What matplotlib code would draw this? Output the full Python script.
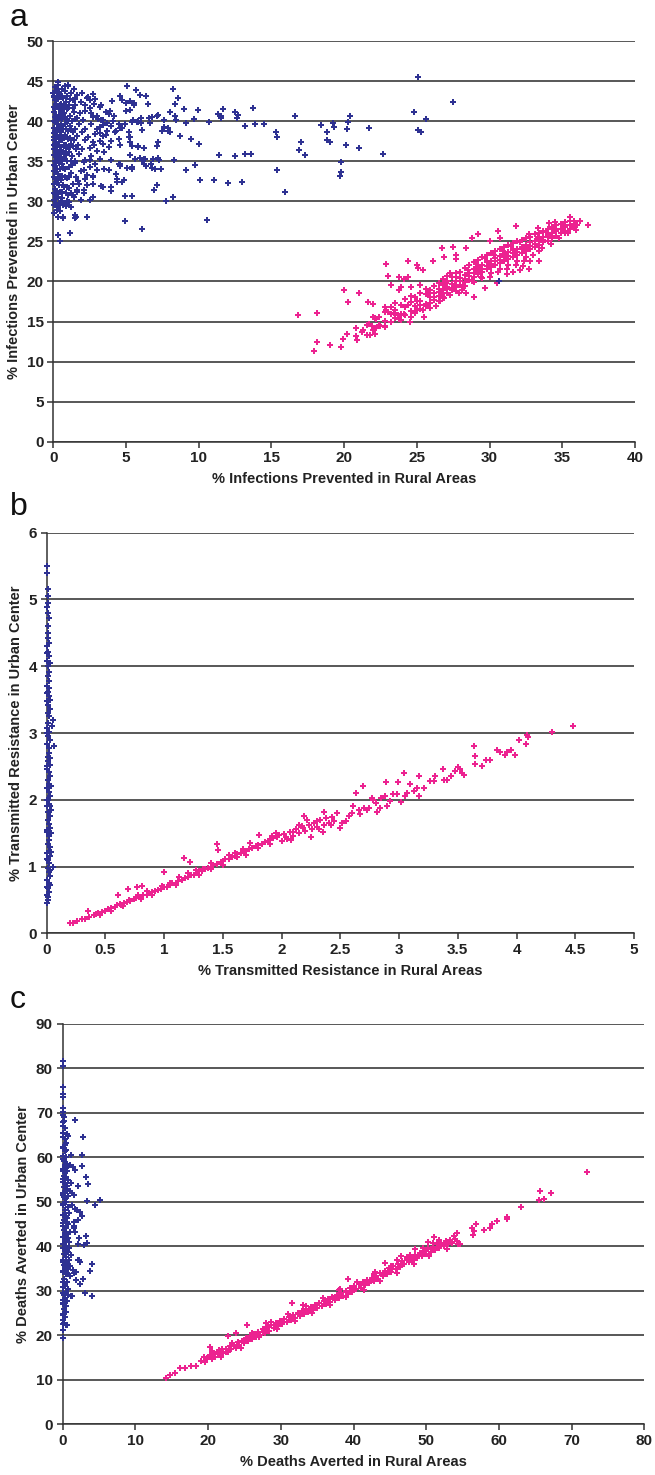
import numpy as np
import matplotlib
matplotlib.use("Agg")
import matplotlib.pyplot as plt
from matplotlib.ticker import FormatStrFormatter

plt.rcParams["font.family"] = ["Liberation Sans", "DejaVu Sans"]

BLUE = "#2E3192"
PINK = "#EC2290"

# ---- panel a: % infections prevented (urban = blue, rural = pink) ----
A_URBAN = [
    (5.08, 44.4), (5.68, 43.9), (5.95, 43.3), (6.4, 43.1), (4.6, 43.1), (4.7, 42.6), (5.0, 42.3),
    (5.3, 42.5), (5.55, 42.3), (6.5, 42.2), (4.07, 42.5), (5.55, 42.0), (5.03, 41.3), (5.3, 41.4),
    (8.24, 44.0), (8.6, 42.9), (8.35, 42.1), (8.0, 41.2), (8.97, 41.5), (9.93, 41.4), (8.35, 40.6),
    (8.46, 40.1), (9.66, 40.3), (9.15, 39.8), (10.7, 39.9), (11.3, 40.9), (11.5, 40.6), (11.7, 41.5),
    (11.5, 40.4), (12.5, 41.2), (12.7, 40.8), (12.6, 40.4), (13.7, 41.6), (13.2, 39.4), (13.9, 39.7),
    (14.5, 39.7), (16.6, 40.6), (18.4, 39.5), (18.8, 38.7), (18.8, 37.6), (19.0, 37.4), (17.0, 37.4),
    (16.9, 36.4), (17.3, 35.8), (15.3, 38.6), (15.4, 38.0), (15.4, 33.9), (15.9, 31.2), (11.4, 35.8),
    (12.5, 35.6), (13.2, 35.9), (13.6, 35.9), (11.05, 32.7), (10.07, 32.7), (12.0, 32.3), (12.95, 32.4),
    (10.6, 27.7), (9.73, 34.5), (10.0, 37.1), (9.5, 37.8), (8.7, 38.1), (9.15, 33.9), (8.3, 35.1),
    (7.4, 34.0), (7.2, 37.4), (7.16, 36.9), (7.2, 35.4), (7.3, 35.1), (6.87, 35.3), (7.0, 34.0),
    (7.1, 32.0), (6.9, 31.4), (7.76, 30.1), (8.24, 30.5), (6.22, 36.6), (6.22, 35.3), (6.22, 34.7),
    (6.34, 34.4), (6.7, 34.6), (6.8, 34.2), (6.8, 40.5), (6.6, 40.4), (6.06, 40.4), (6.1, 38.9),
    (5.77, 39.9), (5.8, 36.9), (5.95, 35.4), (5.6, 35.3), (5.24, 35.8), (5.4, 34.3), (5.08, 34.1),
    (5.4, 30.6), (4.9, 30.7), (4.94, 27.5), (6.1, 26.6), (4.87, 32.7), (4.7, 32.4), (4.5, 34.7),
    (4.57, 34.4), (4.3, 33.4), (3.94, 31.3), (5.2, 38.0), (5.3, 37.4), (5.5, 40.1), (5.84, 39.9),
    (7.6, 39.3), (7.87, 38.8), (7.5, 38.8), (7.9, 39.1), (8.0, 38.6), (7.64, 40.1), (7.2, 40.8),
    (7.1, 40.7), (25.1, 45.5), (27.5, 42.4), (24.8, 41.1), (25.6, 40.3), (25.1, 38.9), (25.3, 38.6),
    (20.4, 40.7), (20.3, 39.9), (19.2, 39.8), (19.3, 39.3), (20.2, 39.0), (21.7, 39.1), (20.1, 37.0),
    (21.0, 36.7), (22.7, 35.9), (19.8, 34.9), (19.8, 33.7), (19.7, 33.1), (30.65, 20.0),
    (2.7, 43.4), (2.0, 43.5), (2.3, 42.9), (1.4, 44.0), (1.5, 42.8), (2.5, 42.7), (2.8, 42.2),
    (3.2, 41.8), (3.3, 42.0), (2.5, 41.6), (2.2, 41.3), (3.6, 41.1), (3.8, 40.9), (3.9, 41.3),
    (4.2, 40.7), (2.75, 40.5), (3.1, 40.3), (3.4, 40.1), (4.1, 40.0), (4.5, 39.7), (4.9, 39.7),
    (5.4, 39.9), (5.8, 40.0), (6.0, 39.8), (6.65, 39.8), (4.7, 39.1), (5.2, 38.6), (4.25, 38.6),
    (3.7, 38.8), (3.2, 39.3), (2.9, 38.4), (3.4, 38.2), (4.0, 37.5), (4.5, 37.8), (5.3, 38.0),
    (4.6, 37.0), (5.4, 36.9), (5.8, 36.8), (3.2, 37.5), (2.75, 37.4), (3.4, 37.1), (2.5, 36.7),
    (3.0, 36.3), (3.5, 36.1), (4.0, 35.2), (4.6, 34.6), (5.1, 34.2), (5.4, 34.0), (6.1, 35.2),
    (6.3, 35.3), (3.2, 35.3), (2.6, 35.7), (2.2, 35.1), (2.5, 34.3), (3.0, 33.9), (3.85, 33.9),
    (2.1, 33.9), (2.75, 33.2), (2.2, 32.8), (1.8, 32.2), (2.3, 32.0), (2.75, 32.2), (3.3, 31.9),
    (3.4, 31.8), (4.0, 31.8), (4.35, 32.8), (4.35, 32.4), (1.6, 31.4), (2.1, 31.4), (2.5, 30.2),
    (1.0, 30.8), (0.8, 29.7), (0.9, 29.4), (0.35, 29.3), (0.23, 28.9), (0.7, 27.9), (1.5, 28.3),
    (1.5, 27.9), (2.3, 28.1), (0.34, 25.8), (0.46, 25.0), (1.14, 26.0), (0.69, 28.0), (0.34, 28.0),
    (1.1, 29.5), (1.2, 29.3), (1.55, 28.0), (0.34, 44.9), (0.11, 44.3), (0.8, 44.4), (1.03, 44.4),
    (0.0, 43.5),
    (0.05, 30.2), (0.1, 31.5), (0.08, 33.0), (0.12, 34.4), (0.06, 35.8), (0.1, 37.1), (0.07, 38.5),
    (0.11, 39.9), (0.05, 41.2), (0.09, 42.6), (0.13, 43.8), (0.2, 29.8), (0.25, 31.0), (0.22, 32.3),
    (0.18, 33.7), (0.26, 35.1), (0.21, 36.4), (0.17, 37.8), (0.24, 39.2), (0.19, 40.6), (0.27, 41.9),
    (0.23, 43.1), (0.32, 30.5), (0.36, 32.0), (0.3, 33.4), (0.38, 34.8), (0.33, 36.0), (0.37, 37.4),
    (0.31, 38.9), (0.35, 40.2), (0.4, 41.5), (0.34, 42.8), (0.29, 44.5), (0.45, 31.2), (0.5, 32.7),
    (0.47, 34.0), (0.52, 35.5), (0.44, 36.8), (0.49, 38.1), (0.55, 39.5), (0.46, 40.8), (0.53, 42.2),
    (0.48, 43.4), (0.6, 30.4), (0.63, 33.2), (0.58, 34.6), (0.66, 36.1), (0.61, 37.6), (0.68, 39.0),
    (0.59, 40.3), (0.64, 41.7), (0.7, 42.9), (0.75, 31.8), (0.8, 34.0), (0.73, 35.3), (0.84, 36.7),
    (0.77, 38.3), (0.82, 39.6), (0.74, 41.0), (0.86, 42.4), (0.92, 32.9), (0.95, 35.0), (0.9, 37.0),
    (0.98, 38.8), (0.93, 40.1), (1.0, 41.6), (0.96, 43.2), (1.05, 31.6), (1.1, 34.3), (1.08, 36.2),
    (1.15, 37.9), (1.12, 39.4), (1.18, 40.7), (1.06, 42.0), (1.25, 33.5), (1.3, 35.7), (1.22, 37.2),
    (1.35, 38.6), (1.28, 40.0), (1.4, 41.2), (1.32, 42.6), (1.45, 30.5), (1.5, 34.8), (1.55, 36.5),
    (1.48, 39.0), (1.6, 40.4), (1.52, 42.0), (0.03, 31.0), (0.15, 32.8), (0.28, 34.0), (0.42, 35.9),
    (0.14, 36.9), (0.03, 38.0), (0.27, 38.3), (0.43, 39.4), (0.15, 41.5), (0.39, 43.6), (0.57, 44.0),
    (0.02, 43.0), (0.04, 40.0), (0.03, 34.5), (0.16, 30.6), (0.41, 29.6), (0.62, 35.0), (0.71, 37.0),
    (0.55, 41.0), (0.79, 40.5), (0.88, 38.0), (0.67, 32.0), (0.85, 31.0), (1.02, 36.8), (1.2, 35.0),
    (1.38, 36.9), (1.65, 38.2), (1.7, 37.0), (1.75, 39.6), (1.8, 35.9), (1.85, 41.0), (1.9, 33.8),
    (1.95, 38.7), (2.0, 36.5), (2.05, 40.2), (2.1, 34.9), (1.7, 32.5), (1.6, 31.2), (1.9, 30.2),
    (1.35, 30.8), (1.1, 29.9), (0.95, 30.0), (0.7, 29.5), (2.2, 39.0), (2.4, 38.0), (2.6, 39.6),
    (2.8, 37.0), (2.5, 35.2), (2.3, 33.3), (2.7, 33.0), (2.9, 34.6), (3.0, 39.0), (3.2, 38.5),
    (2.2, 37.6), (3.4, 39.5), (3.6, 38.3), (2.1, 31.0), (2.7, 30.5), (3.5, 34.0), (3.8, 36.8),
    (1.2, 43.5), (1.0, 44.5), (0.8, 43.8), (1.6, 43.3), (1.9, 42.4), (2.2, 42.0), (2.4, 43.0),
    (2.6, 41.0), (3.0, 40.7), (3.3, 40.2), (3.7, 39.8), (4.0, 39.4), (4.3, 38.8), (4.6, 39.2),
    (2.9, 42.8),
    (0.02, 29.5), (0.06, 32.2), (0.04, 33.8), (0.09, 35.0), (0.02, 36.5), (0.08, 37.6), (0.05, 39.2),
    (0.03, 41.8), (0.07, 43.2), (0.14, 30.9), (0.16, 35.5), (0.13, 38.8), (0.18, 42.2), (0.22, 44.0),
    (0.25, 36.9), (0.29, 32.8), (0.33, 39.6), (0.37, 35.2), (0.4, 33.0), (0.43, 37.9), (0.46, 42.0),
    (0.5, 30.0), (0.52, 36.3), (0.56, 38.6), (0.6, 43.0), (0.63, 31.2), (0.66, 40.9), (0.7, 34.2),
    (0.73, 38.0), (0.77, 36.0), (0.8, 42.0), (0.83, 33.0), (0.87, 39.0), (0.9, 35.8), (0.94, 41.5),
    (0.97, 31.8), (1.0, 37.8), (1.04, 40.0), (1.08, 33.0), (1.12, 42.8), (1.16, 36.8), (1.2, 31.0),
    (1.24, 39.0), (1.28, 34.5), (1.33, 41.7), (1.37, 32.2), (1.42, 37.6), (1.46, 35.0), (1.5, 40.3),
    (1.55, 33.0), (0.12, 40.5), (0.26, 40.5), (0.05, 37.0), (0.2, 35.0), (0.35, 31.0), (0.45, 28.8),
    (0.08, 28.5),
]

A_RURAL = [
    (16.8, 15.8), (18.1, 16.1), (17.9, 11.3), (18.1, 12.5), (19.0, 12.1), (19.8, 11.8), (19.95, 12.8),
    (20.2, 13.5), (20.3, 17.4), (20.0, 18.9), (21.0, 18.6), (20.85, 14.2), (20.85, 13.2), (20.9, 12.7),
    (21.2, 13.7), (21.6, 13.3), (21.8, 13.3), (22.1, 13.4), (21.65, 17.4), (22.0, 17.2), (22.0, 15.6),
    (22.1, 15.4), (21.7, 14.7), (21.9, 14.4), (22.2, 14.2), (22.5, 14.4), (22.8, 14.5), (22.9, 22.2),
    (23.0, 20.7), (23.25, 19.5), (23.75, 20.5), (24.1, 20.3), (24.4, 22.5), (24.4, 20.6), (23.8, 18.9),
    (23.9, 19.3), (24.6, 19.3), (25.0, 22.0), (25.1, 21.7), (25.4, 21.4), (25.2, 19.6), (26.1, 22.6),
    (26.7, 24.2), (27.5, 24.3), (26.9, 23.1), (27.7, 23.3), (27.7, 22.8), (28.4, 24.2), (28.8, 25.4),
    (29.2, 25.9), (30.55, 26.3), (31.85, 26.9), (30.7, 25.4), (30.0, 25.0), (33.3, 26.7), (34.1, 27.3),
    (34.5, 27.4), (35.5, 28.1), (35.8, 27.6), (36.2, 27.5), (36.75, 27.1), (35.9, 27.1), (35.95, 26.4),
    (35.2, 26.0), (32.7, 21.5), (33.4, 22.6), (32.8, 22.5), (32.3, 21.9), (32.1, 21.4), (31.6, 21.2),
    (31.2, 20.9), (30.5, 19.8), (29.7, 19.2), (28.9, 18.1), (28.4, 18.6), (28.2, 19.4), (27.9, 18.5),
    (27.3, 18.3), (26.9, 17.9), (26.6, 17.5), (25.9, 17.3), (25.5, 15.6), (25.0, 16.5), (24.5, 15.0),
    (24.1, 15.9), (23.75, 15.3), (23.4, 16.1), (22.9, 16.5), (22.8, 16.8), (21.3, 14.0), (21.6, 14.6),
    (22.0, 14.0), (22.2, 15.3),
    (22.4, 14.6), (22.4, 15.6), (22.8, 15.1), (22.8, 16.2), (22.8, 14.3), (23.2, 15.9), (23.2, 14.9),
    (23.2, 16.8), (23.5, 15.4), (23.5, 16.5), (23.5, 17.3), (23.9, 16.0), (23.9, 17.1), (23.9, 15.2),
    (24.2, 16.8), (24.2, 15.8), (24.2, 17.8), (24.6, 16.3), (24.6, 17.4), (24.6, 18.2), (24.6, 15.6),
    (24.9, 17.0), (24.9, 16.1), (24.9, 18.0), (25.2, 17.6), (25.2, 16.6), (25.2, 18.5), (25.2, 17.1),
    (25.6, 17.2), (25.6, 18.4), (25.6, 16.9), (25.6, 19.1), (25.9, 18.0), (25.9, 17.3), (25.9, 18.9),
    (25.9, 16.7), (26.2, 18.5), (26.2, 17.7), (26.2, 19.4), (26.2, 18.1), (26.5, 18.2), (26.5, 19.1),
    (26.5, 17.5), (26.5, 19.8), (26.5, 18.7), (26.8, 18.9), (26.8, 19.6), (26.8, 18.0), (26.8, 20.3),
    (27.1, 19.3), (27.1, 18.5), (27.1, 20.1), (27.1, 19.0), (27.1, 20.7), (27.4, 19.7), (27.4, 18.9),
    (27.4, 20.6), (27.4, 19.2), (27.7, 20.0), (27.7, 19.3), (27.7, 21.1), (27.7, 20.5), (27.7, 18.8),
    (28.0, 20.4), (28.0, 19.6), (28.0, 21.2), (28.0, 20.0), (28.3, 20.8), (28.3, 19.9), (28.3, 21.7),
    (28.3, 20.3), (28.3, 19.4), (28.6, 21.1), (28.6, 20.2), (28.6, 22.0), (28.6, 20.7), (28.9, 21.5),
    (28.9, 20.6), (28.9, 22.4), (28.9, 21.0), (28.9, 19.9), (29.2, 21.8), (29.2, 20.9), (29.2, 22.7),
    (29.2, 21.3), (29.5, 22.1), (29.5, 21.2), (29.5, 23.0), (29.5, 21.6), (29.5, 20.4), (29.8, 22.4),
    (29.8, 21.5), (29.8, 23.3), (29.8, 21.9), (30.1, 22.6), (30.1, 21.8), (30.1, 23.6), (30.1, 22.2),
    (30.1, 21.0), (30.4, 22.9), (30.4, 22.1), (30.4, 23.8), (30.4, 22.5), (30.7, 23.2), (30.7, 22.3),
    (30.7, 24.1), (30.7, 22.7), (30.7, 21.6), (31.0, 23.4), (31.0, 22.6), (31.0, 24.3), (31.0, 23.0),
    (31.3, 23.7), (31.3, 22.8), (31.3, 24.5), (31.3, 23.2), (31.3, 22.0), (31.6, 23.9), (31.6, 23.1),
    (31.6, 24.8), (31.6, 23.5), (31.9, 24.1), (31.9, 23.3), (31.9, 25.0), (31.9, 23.7), (31.9, 22.5),
    (32.2, 24.3), (32.2, 23.6), (32.2, 25.2), (32.2, 24.0), (32.5, 24.6), (32.5, 23.8), (32.5, 25.4),
    (32.5, 24.2), (32.5, 23.0), (32.8, 24.9), (32.8, 24.1), (32.8, 25.6), (32.8, 24.4), (33.1, 25.1),
    (33.1, 24.3), (33.1, 25.9), (33.1, 24.7), (33.4, 25.3), (33.4, 24.6), (33.4, 26.1), (33.4, 25.0),
    (33.4, 23.8), (33.7, 25.6), (33.7, 24.9), (33.7, 26.3), (33.7, 25.2), (34.0, 25.8), (34.0, 25.1),
    (34.0, 26.5), (34.0, 25.5), (34.3, 26.1), (34.3, 25.4), (34.3, 26.8), (34.3, 25.7), (34.6, 26.3),
    (34.6, 25.7), (34.6, 27.0), (34.9, 26.6), (34.9, 26.0), (34.9, 27.2), (35.2, 26.8), (35.2, 26.3),
    (35.2, 27.4), (35.5, 27.0), (35.5, 26.5), (35.5, 27.6), (35.8, 27.2), (35.8, 26.8),
    (23.0, 16.2), (23.7, 15.8), (24.4, 17.1), (25.0, 17.6), (25.4, 16.4), (25.8, 18.6), (26.3, 17.0),
    (26.7, 18.4), (27.0, 19.8), (27.3, 21.0), (27.6, 19.6), (28.1, 18.9), (28.5, 21.4), (28.8, 20.0),
    (29.1, 22.2), (29.4, 20.6), (29.7, 22.9), (30.0, 20.5), (30.3, 23.3), (30.6, 21.2), (30.9, 23.8),
    (31.2, 21.5), (31.5, 24.4), (31.8, 22.1), (32.1, 24.9), (32.4, 22.6), (32.7, 25.9), (33.0, 23.3),
    (33.3, 25.6), (33.6, 24.2), (33.9, 26.2), (34.2, 24.7), (34.5, 26.6), (34.8, 25.4), (35.1, 27.0),
    (35.4, 26.0), (35.7, 26.9), (36.0, 27.0),
]

# ---- panel b: % transmitted resistance ----
B_URBAN = [
    (0.006, 5.5), (0.006, 5.4), (0.01, 5.15), (0.012, 5.05), (0.015, 4.95), (0.012, 4.8),
    (0.018, 4.72), (0.02, 4.35), (0.01, 4.6), (0.008, 4.5), (0.015, 4.42), (0.005, 4.3),
    (0.012, 4.22), (0.018, 4.15), (0.006, 4.08), (0.014, 4.0), (0.02, 3.92), (0.008, 3.85),
    (0.016, 3.78), (0.004, 3.7), (0.022, 3.68), (0.012, 3.62), (0.018, 3.55), (0.006, 3.48),
    (0.014, 3.42), (0.024, 3.36), (0.008, 3.3), (0.018, 3.25), (0.05, 3.2), (0.045, 3.1),
    (0.012, 3.15), (0.004, 3.08), (0.02, 3.02), (0.01, 2.96), (0.026, 2.9), (0.062, 2.8),
    (0.006, 2.84), (0.016, 2.77), (0.022, 2.7), (0.008, 2.64), (0.014, 2.58), (0.024, 2.52),
    (0.004, 2.46), (0.018, 2.42), (0.03, 2.35), (0.01, 2.3), (0.02, 2.24), (0.034, 2.2),
    (0.006, 2.18), (0.016, 2.12), (0.026, 2.06), (0.01, 2.0), (0.02, 1.94), (0.004, 1.9),
    (0.04, 1.84), (0.014, 1.82), (0.024, 1.76), (0.008, 1.7), (0.018, 1.64), (0.028, 1.58),
    (0.04, 1.5), (0.006, 1.52), (0.016, 1.46), (0.022, 1.4), (0.01, 1.34), (0.03, 1.3),
    (0.018, 1.24), (0.004, 1.2), (0.026, 1.16), (0.012, 1.1), (0.02, 1.05), (0.056, 1.0),
    (0.008, 0.98), (0.016, 0.92), (0.024, 0.86), (0.006, 0.8), (0.018, 0.76), (0.03, 0.72),
    (0.012, 0.68), (0.02, 0.62), (0.006, 0.58), (0.014, 0.54), (0.008, 0.5), (0.004, 0.45),
    (0.0, 4.88), (0.0, 4.2), (0.0, 3.6), (0.0, 3.0), (0.0, 2.5), (0.0, 2.0), (0.0, 1.55),
    (0.0, 1.12), (0.0, 0.7), (0.025, 4.05), (0.026, 3.5), (0.028, 2.62), (0.03, 1.9),
    (0.034, 1.22), (0.03, 0.95),
]

B_RURAL = [
    (0.2, 0.15), (0.22, 0.16), (0.26, 0.18), (0.3, 0.21), (0.33, 0.22), (0.35, 0.34), (0.36, 0.25),
    (0.4, 0.27), (0.42, 0.29), (0.44, 0.31), (0.47, 0.32), (0.5, 0.34), (0.52, 0.36), (0.55, 0.38),
    (0.58, 0.39), (0.61, 0.58), (0.6, 0.42), (0.63, 0.43), (0.66, 0.45), (0.69, 0.66), (0.68, 0.47),
    (0.71, 0.49), (0.74, 0.51), (0.77, 0.7), (0.76, 0.53), (0.79, 0.54), (0.81, 0.71), (0.82, 0.57),
    (0.85, 0.58), (0.87, 0.6), (0.9, 0.62), (0.92, 0.64), (0.95, 0.65), (0.97, 0.67), (1.0, 0.92),
    (1.0, 0.69), (1.02, 0.7), (1.05, 0.72), (1.07, 0.75), (1.1, 0.76), (1.12, 0.79), (1.15, 0.8),
    (1.17, 1.13), (1.18, 0.83), (1.2, 0.84), (1.22, 1.07), (1.23, 0.87), (1.25, 0.88), (1.28, 0.9),
    (1.3, 0.93), (1.32, 0.94), (1.35, 0.97), (1.37, 0.98), (1.4, 1.0), (1.42, 1.03), (1.45, 1.34),
    (1.46, 1.25), (1.45, 1.04), (1.48, 1.07), (1.5, 1.08), (1.52, 1.11), (1.55, 1.12), (1.58, 1.15),
    (1.6, 1.16), (1.62, 1.19), (1.65, 1.2), (1.68, 1.23), (1.7, 1.24), (1.73, 1.36), (1.72, 1.27),
    (1.75, 1.28), (1.78, 1.31), (1.81, 1.47), (1.8, 1.32), (1.83, 1.34), (1.86, 1.37), (1.88, 1.39),
    (1.9, 1.4), (1.93, 1.43), (1.96, 1.44), (1.98, 1.47), (2.0, 1.38), (2.02, 1.49), (2.05, 1.42),
    (2.07, 1.52), (2.1, 1.46), (2.12, 1.56), (2.15, 1.63), (2.15, 1.5), (2.19, 1.75), (2.18, 1.58),
    (2.2, 1.53), (2.23, 1.62), (2.26, 1.56), (2.28, 1.66), (2.3, 1.6), (2.33, 1.69), (2.36, 1.81),
    (2.36, 1.63), (2.38, 1.72), (2.4, 1.66), (2.43, 1.74), (2.45, 1.68), (2.25, 1.45), (2.35, 1.52),
    (0.9, 0.57), (1.1, 0.72), (1.3, 0.88), (1.5, 1.03), (1.7, 1.18), (1.9, 1.34), (2.08, 1.4),
    (1.6, 1.21), (1.4, 1.06), (1.2, 0.9), (0.8, 0.52), (0.65, 0.41), (0.45, 0.28), (1.95, 1.5),
    (0.55, 0.34), (0.7, 0.5), (0.85, 0.63), (0.98, 0.71), (1.13, 0.84), (1.27, 0.95), (1.4, 0.96),
    (1.55, 1.17), (1.67, 1.27), (1.8, 1.28), (1.92, 1.46), (2.04, 1.45), (2.17, 1.61), (2.3, 1.68),
    (2.42, 1.62), (2.32, 1.57), (1.62, 1.14), (1.33, 0.97), (1.05, 0.76), (0.78, 0.57), (0.62, 0.44),
    (2.22, 1.7), (2.55, 1.68), (2.1, 1.52),
    (2.47, 1.8), (2.51, 1.65), (2.5, 1.58), (2.57, 1.75), (2.6, 1.8), (2.61, 1.9), (2.66, 1.85),
    (2.67, 1.78), (2.7, 1.88), (2.73, 1.85), (2.74, 1.88), (2.77, 2.03), (2.8, 1.95), (2.81, 1.81),
    (2.84, 1.88), (2.85, 2.03), (2.88, 2.05), (2.9, 1.9), (2.92, 1.98), (2.95, 2.08), (2.98, 2.08),
    (3.02, 1.96), (3.05, 2.05), (3.07, 2.1), (3.09, 2.23), (3.13, 2.13), (3.15, 2.18), (3.17, 2.05),
    (3.21, 2.18), (3.26, 2.28), (3.3, 2.28), (3.31, 2.35), (3.38, 2.3), (3.41, 2.3), (3.44, 2.36),
    (3.48, 2.43), (3.52, 2.46), (3.54, 2.4), (2.63, 2.1), (2.69, 2.2), (2.78, 2.0), (2.89, 2.27),
    (2.99, 2.27), (3.04, 2.4), (3.17, 2.36), (3.37, 2.46), (3.5, 2.49), (3.55, 2.37), (3.64, 2.8),
    (3.65, 2.66), (3.65, 2.54), (3.71, 2.5), (3.74, 2.6), (3.77, 2.59), (3.83, 2.75), (3.86, 2.72),
    (3.9, 2.67), (3.92, 2.71), (3.95, 2.74), (3.99, 2.67), (4.02, 2.89), (4.08, 2.83), (4.09, 2.97),
    (4.1, 2.94), (4.3, 3.01), (4.48, 3.1),
]

# ---- panel c: % deaths averted ----
C_URBAN = [
    (0.0, 81.7), (0.1, 80.5), (0.0, 75.8), (0.0, 74.2), (0.0, 73.6), (0.1, 71.1), (1.69, 68.3),
    (2.84, 64.6), (2.6, 60.6), (2.6, 58.0), (1.46, 57.9), (1.69, 57.2), (1.14, 54.3), (2.15, 53.6),
    (3.2, 55.5), (3.43, 54.0), (1.0, 52.5), (1.33, 51.9), (1.56, 51.5), (3.38, 50.2), (4.5, 49.2),
    (5.1, 50.3), (1.33, 49.3), (1.92, 48.2), (2.38, 47.6), (2.6, 46.7), (2.15, 45.9), (1.6, 44.6),
    (1.7, 43.3), (3.15, 42.3), (3.38, 40.8), (2.15, 40.6), (2.98, 40.2), (2.15, 37.0), (2.38, 36.4),
    (4.08, 36.1), (3.77, 34.5), (1.83, 34.2), (2.84, 32.7), (2.38, 31.6), (3.06, 29.4), (3.98, 28.8),
    (1.24, 28.8), (0.55, 22.4), (0.1, 19.3), (0.0, 21.2), (0.55, 65.2), (0.8, 64.7), (0.55, 58.5),
    (0.8, 58.0), (1.0, 58.2), (1.1, 60.6), (1.55, 45.5), (1.55, 44.2), (1.2, 28.9), (1.4, 34.7),
    (1.55, 33.9), (1.8, 32.4), (2.3, 36.9), (2.3, 41.8), (1.7, 48.3), (2.0, 48.1),
    (0.05, 70.2), (0.2, 69.0), (0.1, 67.8), (0.3, 66.5), (0.05, 65.4), (0.25, 64.0), (0.4, 63.2),
    (0.1, 62.4), (0.3, 61.3), (0.05, 60.2), (0.5, 60.0), (0.2, 59.1), (0.35, 58.2), (0.1, 57.3),
    (0.6, 57.0), (0.25, 56.4), (0.45, 55.6), (0.05, 55.0), (0.7, 54.8), (0.3, 54.1), (0.15, 53.3),
    (0.55, 52.8), (0.35, 52.0), (0.05, 51.4), (0.8, 51.2), (0.25, 50.6), (0.5, 49.9), (0.1, 49.2),
    (0.7, 48.8), (0.35, 48.2), (0.9, 47.5), (0.15, 47.0), (0.55, 46.4), (0.3, 45.8), (0.05, 45.2),
    (0.75, 44.9), (0.45, 44.2), (0.2, 43.6), (1.0, 43.2), (0.6, 42.7), (0.1, 42.1), (0.35, 41.5),
    (0.85, 41.0), (0.05, 40.4), (0.5, 40.0), (0.25, 39.3), (0.7, 38.8), (0.15, 38.2), (1.1, 38.0),
    (0.4, 37.5), (0.9, 36.9), (0.05, 36.5), (0.6, 36.0), (0.3, 35.4), (0.8, 34.9), (0.1, 34.3),
    (0.45, 33.7), (1.0, 33.2), (0.2, 32.6), (0.65, 32.0), (0.35, 31.4), (0.05, 30.8), (0.8, 30.3),
    (0.5, 29.7), (0.15, 29.1), (0.3, 28.4), (0.6, 27.8), (0.05, 27.2), (0.4, 26.6), (0.2, 26.0),
    (0.5, 25.3), (0.1, 24.7), (0.3, 24.0), (0.05, 23.4), (0.2, 22.8), (0.4, 22.2),
    (0.0, 69.5), (0.0, 67.0), (0.0, 64.5), (0.0, 62.0), (0.0, 59.5), (0.0, 57.0), (0.0, 54.5),
    (0.0, 52.0), (0.0, 49.5), (0.0, 47.0), (0.0, 44.5), (0.0, 42.0), (0.0, 39.5), (0.0, 37.0),
    (0.0, 34.5), (0.0, 32.0), (0.0, 29.5), (0.0, 27.0), (0.0, 24.5), (0.0, 22.5),
    (0.15, 68.2), (0.25, 62.8), (0.4, 57.7), (0.15, 55.8), (0.6, 53.5), (0.2, 51.0), (0.4, 46.8),
    (0.65, 45.4), (0.25, 43.0), (0.7, 41.9), (0.35, 39.0), (0.2, 35.8), (0.55, 34.0), (0.25, 31.0),
    (0.1, 28.0), (0.25, 25.2), (0.45, 61.6), (0.15, 45.9), (0.9, 39.6), (0.95, 35.6), (0.75, 29.0),
]

C_RURAL = [
    (14.25, 10.3), (14.7, 11.1), (15.4, 11.6), (16.1, 12.6), (16.8, 12.7), (17.7, 13.1), (18.4, 13.1),
    (20.3, 17.4), (22.8, 19.8), (25.3, 22.3), (23.8, 20.4), (31.6, 27.2), (72.1, 56.6), (65.7, 52.5),
    (67.1, 51.9), (66.2, 50.6), (65.5, 50.4), (63.1, 48.8), (61.1, 46.6), (61.1, 46.2), (59.7, 45.6),
    (59.0, 44.9), (58.8, 44.0), (58.0, 43.6), (56.8, 45.1), (56.3, 44.2), (56.6, 43.5), (56.5, 42.5),
    (54.2, 42.9), (54.4, 40.6), (51.1, 42.0), (50.3, 41.0), (47.8, 38.0), (46.55, 37.7), (44.35, 36.3),
    (39.3, 32.6),
    (19.0, 14.3), (19.4, 15.2), (19.6, 13.9), (19.9, 14.8), (20.2, 15.6), (20.5, 14.6), (20.8, 15.8),
    (21.0, 15.1), (21.3, 16.2), (21.6, 15.5), (21.9, 16.8), (22.1, 16.0), (22.4, 17.0), (22.7, 16.3),
    (23.0, 17.5), (23.2, 16.8), (23.5, 17.9), (23.8, 17.2), (24.1, 18.4), (24.3, 17.7), (24.6, 18.8),
    (24.9, 18.2), (25.2, 19.3), (25.5, 18.6), (25.8, 19.9), (26.0, 19.2), (26.3, 20.3), (26.6, 19.7),
    (26.9, 20.8), (27.2, 20.1), (27.5, 21.3), (27.8, 20.6), (28.1, 21.8), (28.4, 21.0), (28.7, 22.2),
    (29.0, 21.6), (29.3, 22.7), (29.6, 22.0), (29.9, 23.2), (30.2, 22.5), (30.5, 23.6), (30.8, 22.9),
    (31.1, 24.1), (31.4, 23.4), (31.7, 24.6), (32.0, 23.9), (32.3, 25.0), (32.6, 24.3), (32.9, 25.5),
    (33.2, 24.8), (33.5, 26.0), (33.8, 25.2), (34.1, 26.4), (34.4, 25.7), (34.7, 26.9), (35.0, 26.2),
    (35.3, 27.3), (35.6, 26.6), (35.9, 27.8), (36.2, 27.1), (36.5, 28.2), (36.8, 27.5), (37.1, 28.7),
    (37.4, 28.0), (37.7, 29.1), (38.0, 28.4), (38.3, 29.6), (38.6, 28.9), (38.9, 30.0), (39.2, 29.3),
    (39.5, 30.5), (39.8, 29.8), (40.1, 31.0), (40.4, 30.3), (40.7, 31.4), (41.0, 30.7), (41.3, 31.9),
    (41.6, 31.2), (41.9, 32.4), (42.2, 31.7), (42.5, 32.9), (42.8, 32.2), (43.1, 33.4), (43.4, 32.7),
    (43.7, 33.9), (44.0, 33.2), (44.3, 34.5), (44.6, 33.8), (44.9, 35.0), (45.2, 34.3), (45.5, 35.5),
    (45.8, 34.9), (46.1, 36.0), (46.4, 35.4), (46.7, 36.6), (47.0, 35.9), (47.3, 37.1), (47.6, 36.4),
    (47.9, 37.6), (48.2, 36.9), (48.5, 38.1), (48.8, 37.4), (49.1, 38.5), (49.4, 37.9), (49.7, 39.0),
    (50.0, 38.3), (50.3, 39.5), (50.6, 38.8), (50.9, 39.9), (51.2, 39.2), (51.5, 40.4), (51.8, 39.7),
    (52.1, 40.6), (52.4, 40.0), (52.7, 41.1), (53.0, 40.4), (53.3, 41.5), (53.6, 40.8), (53.9, 41.7),
    (54.2, 41.2),
    (20.0, 15.0), (21.5, 16.6), (22.5, 16.2), (24.0, 17.9), (25.0, 18.8), (26.5, 20.2), (27.5, 20.7),
    (29.0, 22.3), (30.0, 22.8), (31.5, 24.0), (32.5, 24.7), (34.0, 25.9), (35.0, 26.8), (36.5, 27.6),
    (37.5, 28.6), (39.0, 29.7), (40.0, 30.6), (41.5, 31.6), (42.5, 32.4), (44.0, 33.7), (45.0, 34.6),
    (46.5, 35.8), (47.5, 36.8), (49.0, 37.9), (50.0, 38.9), (51.5, 39.8), (52.5, 40.7), (53.5, 41.0),
    (28.0, 22.8), (33.0, 26.8), (38.0, 30.1), (43.0, 34.3), (46.0, 36.9), (48.5, 39.4), (51.0, 40.8),
    (20.6, 16.4), (21.8, 15.2), (23.3, 18.2), (24.5, 17.2), (26.1, 20.6), (27.0, 19.6), (28.6, 22.9),
    (29.5, 21.3), (31.0, 24.7), (31.9, 23.1), (33.4, 26.6), (34.3, 24.9), (35.8, 28.4), (36.7, 26.7),
    (38.1, 30.3), (39.0, 28.6), (40.5, 32.0), (41.4, 30.2), (42.8, 33.7), (43.7, 32.1), (45.1, 35.6),
    (46.0, 33.9), (47.4, 37.6), (48.3, 35.9), (49.6, 39.6), (50.4, 37.8), (51.8, 41.3), (52.8, 39.3),
    (53.8, 42.2), (54.6, 40.5), (22.9, 17.0), (27.7, 21.0), (32.8, 24.7), (37.2, 28.4), (42.1, 32.0),
    (46.8, 36.0), (50.8, 39.4),
]

PANELS = [
    dict(letter="a", urban=A_URBAN, rural=A_RURAL, xlim=(0, 40), xticks=np.arange(0, 41, 5),
         ylim=(0, 50), yticks=np.arange(0, 51, 5),
         xlabel="% Infections Prevented in Rural Areas",
         ylabel="% Infections Prevented in Urban Center",
         rect=[0.0814, 0.7005, 0.888, 0.2717], letter_y=1 - 18 / 1475),
    dict(letter="b", urban=B_URBAN, rural=B_RURAL, xlim=(0, 5), xticks=np.arange(0, 5.01, 0.5),
         ylim=(0, 6), yticks=np.arange(0, 7, 1),
         xlabel="% Transmitted Resistance in Rural Areas",
         ylabel="% Transmitted Resistance in Urban Center",
         rect=[0.0713, 0.3672, 0.8966, 0.2717], letter_y=1 - 507 / 1475),
    dict(letter="c", urban=C_URBAN, rural=C_RURAL, xlim=(0, 80), xticks=np.arange(0, 81, 10),
         ylim=(0, 90), yticks=np.arange(0, 91, 10),
         xlabel="% Deaths Averted in Rural Areas",
         ylabel="% Deaths Averted in Urban Center",
         rect=[0.0957, 0.0344, 0.888, 0.2716], letter_y=1 - 1000 / 1475),
]

fig = plt.figure(figsize=(6.55, 14.75), dpi=100)

for p in PANELS:
    ax = fig.add_axes(p["rect"])
    ux, uy = np.array(p["urban"]).T
    rx, ry = np.array(p["rural"]).T
    ax.plot(rx, ry, linestyle="none", marker="P", ms=4.4, mew=0, color=PINK, clip_on=False, zorder=3)
    ax.plot(ux, uy, linestyle="none", marker="P", ms=4.4, mew=0, color=BLUE, clip_on=False, zorder=4)

    ax.set_xlim(*p["xlim"])
    ax.set_ylim(*p["ylim"])
    ax.set_xticks(p["xticks"])
    ax.set_yticks(p["yticks"])
    ax.xaxis.set_major_formatter(FormatStrFormatter("%g"))
    ax.yaxis.set_major_formatter(FormatStrFormatter("%g"))

    # Excel-style: horizontal gridlines only, no top/right frame
    ax.yaxis.grid(True, color="#2a2a2a", lw=1.1)
    ax.set_axisbelow(True)
    for side in ("top", "right"):
        ax.spines[side].set_visible(False)
    for side in ("left", "bottom"):
        ax.spines[side].set_color("#333333")
        ax.spines[side].set_linewidth(1.1)
    ax.tick_params(direction="out", length=4, width=1.1, color="#333333",
                   labelsize=11, labelcolor="#222222", pad=3)
    for lab in ax.get_xticklabels() + ax.get_yticklabels():
        lab.set_fontweight("bold")

    ax.set_xlabel(p["xlabel"], fontsize=10.5, fontweight="bold", color="#222222", labelpad=5)
    ax.set_ylabel(p["ylabel"], fontsize=10.5, fontweight="bold", color="#222222", labelpad=4)

    fig.text(10 / 655, p["letter_y"], p["letter"], fontsize=23, va="center", ha="left", color="#111111")

fig.savefig("out.png", dpi=100)
